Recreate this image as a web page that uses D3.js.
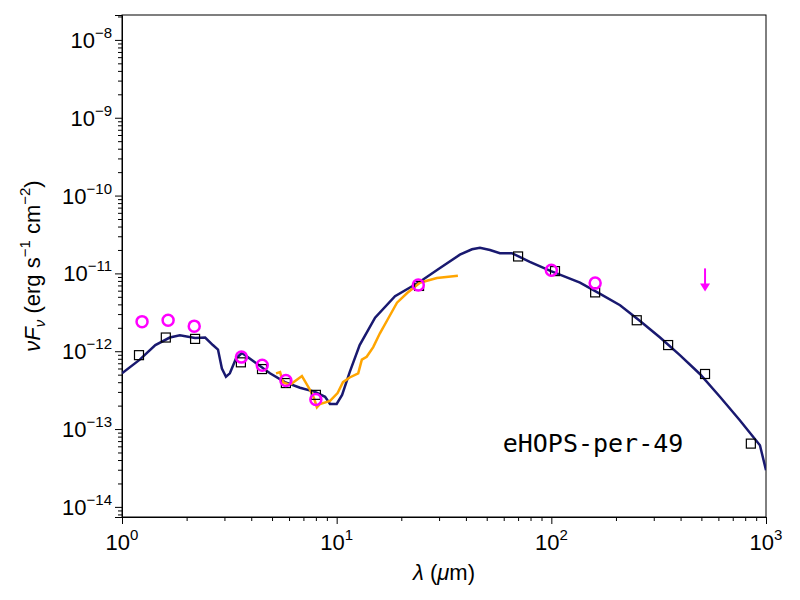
<!DOCTYPE html><html><head><meta charset="utf-8">
<script src="https://cdn.jsdelivr.net/npm/d3@7"></script>
<style>body{margin:0;background:#fff}text{font-family:"Liberation Sans",Arial,sans-serif}</style></head><body>
<svg id="c" width="800" height="600"></svg>
<script>
const modelWave=[1.0,1.21,1.43,1.67,1.86,2.19,2.44,2.65,2.80,2.92,3.05,3.18,3.40,3.62,4.16,4.89,5.74,6.75,7.93,8.83,9.31,10.0,10.6,11.5,12.8,15.1,18.7,24.4,30.3,37.5,42.7,46.5,51.8,57.6,65.5,79.4,99.6,136,168,209,259,321,397,492,610,755,937,1000];
const modelFlux=[5.2e-13,7.8e-13,1.2e-12,1.5e-12,1.6e-12,1.48e-12,1.5e-12,1.2e-12,1.05e-12,6.0e-13,4.7e-13,5.2e-13,8.1e-13,9.5e-13,7.2e-13,5.2e-13,4.0e-13,3.4e-13,3.0e-13,2.6e-13,2.1e-13,2.1e-13,2.75e-13,5.4e-13,1.2e-12,2.7e-12,5.1e-12,7.8e-12,1.17e-11,1.74e-11,2.04e-11,2.14e-11,2.0e-11,1.82e-11,1.82e-11,1.41e-11,1.07e-11,7.6e-12,5.5e-12,3.9e-12,2.45e-12,1.5e-12,8.9e-13,5.1e-13,2.6e-13,1.3e-13,6.2e-14,2.95e-14];
const specWave=[5.22,5.45,5.62,6.06,6.89,7.51,7.84,8.09,8.36,9.31,10.1,10.7,11.5,12.6,13.1,13.8,14.8,15.9,17.2,19.1,21.3,24.4,29.3,36.7];
const specFlux=[5.2e-13,5.4e-13,4.0e-13,3.7e-13,4.8e-13,3.2e-13,2.5e-13,1.9e-13,2.1e-13,2.3e-13,2.9e-13,4.0e-13,4.6e-13,5.2e-13,7.8e-13,8.5e-13,1.13e-12,1.7e-12,2.5e-12,4.2e-12,5.6e-12,7.6e-12,8.7e-12,9.3e-12];
const sqWave=[1.2,1.6,2.19,3.58,4.49,5.8,8.0,24.2,70,104,160,250,350,520,850];
const sqFlux=[8.9e-13,1.5e-12,1.44e-12,7.2e-13,5.9e-13,3.9e-13,2.75e-13,6.9e-12,1.65e-11,1.07e-11,5.7e-12,2.5e-12,1.2e-12,5.1e-13,6.5e-14];
const obsWave=[1.24,1.64,2.17,3.6,4.5,5.8,8.0,24,100,160];
const obsFlux=[2.4e-12,2.5e-12,2.1e-12,8.4e-13,6.6e-13,4.2e-13,2.4e-13,7.1e-12,1.1e-11,7.5e-12];
const limWave=[520], limFlux=[1.0e-11];
const label="eHOPS-per-49";

const svg=d3.select("#c");
const L=122,R=766,T=15,B=517;
const x=d3.scaleLog().domain([1,1000]).range([L,R]);
const y=d3.scaleLog().domain([Math.pow(10,-14.13),Math.pow(10,-7.68)]).range([B,T]);
const g=svg.append("g");
const sup=d=>Math.round(Math.log10(d));
g.append("g").attr("transform",`translate(0,${B})`).call(d3.axisBottom(x).tickValues([1,10,100,1000]).tickSize(7).tickFormat(""));
const xm=[];for(let d=1;d<1000;d*=10)for(let k=2;k<10;k++)xm.push(d*k);
g.append("g").attr("transform",`translate(0,${B})`).call(d3.axisBottom(x).tickValues(xm).tickSize(4).tickFormat("")).select(".domain").remove();
[1,10,100,1000].forEach(v=>{const t=g.append("text").attr("x",x(v)).attr("y",B+33).attr("text-anchor","middle").attr("font-size",22);
 t.append("tspan").text("10");t.append("tspan").attr("dy",-10).attr("font-size",15).text(sup(v));});
const ymaj=[1e-14,1e-13,1e-12,1e-11,1e-10,1e-9,1e-8];
g.append("g").attr("transform",`translate(${L},0)`).call(d3.axisLeft(y).tickValues(ymaj).tickSize(7).tickFormat(""));
const ym=[];for(let e=-15;e<-7;e++)for(let k=2;k<10;k++){const v=k*Math.pow(10,e);if(v>y.domain()[0]&&v<y.domain()[1])ym.push(v);}
g.append("g").attr("transform",`translate(${L},0)`).call(d3.axisLeft(y).tickValues(ym).tickSize(4).tickFormat("")).select(".domain").remove();
ymaj.forEach(v=>{const t=g.append("text").attr("x",L-10).attr("y",y(v)+8).attr("text-anchor","end").attr("font-size",22);
 t.append("tspan").text("10");t.append("tspan").attr("dy",-10).attr("font-size",15).text("\u2212"+(-sup(v)));});
g.selectAll(".tick line").attr("stroke","#000");g.selectAll(".domain").attr("stroke","#000");
svg.append("rect").attr("x",L).attr("y",T).attr("width",R-L).attr("height",B-T).attr("fill","none").attr("stroke","#000").attr("stroke-width",1);
const xl=svg.append("text").attr("x",(L+R)/2).attr("y",580).attr("text-anchor","middle").attr("font-size",22);
xl.append("tspan").attr("font-style","italic").text("λ");xl.append("tspan").text(" (");xl.append("tspan").attr("font-style","italic").text("μ");xl.append("tspan").text("m)");
const yl=svg.append("text").attr("transform",`translate(40,${(T+B)/2}) rotate(-90)`).attr("text-anchor","middle").attr("font-size",22);
yl.append("tspan").attr("font-style","italic").text("νF");yl.append("tspan").attr("font-style","italic").attr("font-size",15).attr("dy",5).text("ν");
yl.append("tspan").attr("dy",-5).text(" (erg s");yl.append("tspan").attr("dy",-10).attr("font-size",15).text("−1");
yl.append("tspan").attr("dy",10).text(" cm");yl.append("tspan").attr("dy",-10).attr("font-size",15).text("−2");yl.append("tspan").attr("dy",10).text(")");
svg.append("clipPath").attr("id","cp").append("rect").attr("x",L).attr("y",T).attr("width",R-L).attr("height",B-T);
const line=d3.line().x(d=>x(d[0])).y(d=>y(d[1]));
const p=svg.append("g").attr("clip-path","url(#cp)");
p.append("path").datum(modelWave.map((w,i)=>[w,modelFlux[i]])).attr("d",line).attr("fill","none").attr("stroke","#191970").attr("stroke-width",2.5);
p.append("path").datum(specWave.map((w,i)=>[w,specFlux[i]])).attr("d",line).attr("fill","none").attr("stroke","orange").attr("stroke-width",2.5);
p.selectAll(".sq").data(sqWave.map((w,i)=>[w,sqFlux[i]])).join("rect").attr("x",d=>x(d[0])-4.5).attr("y",d=>y(d[1])-4.5).attr("width",9).attr("height",9).attr("fill","none").attr("stroke","#000").attr("stroke-width",1.2);
p.selectAll(".ci").data(obsWave.map((w,i)=>[w,obsFlux[i]])).join("circle").attr("cx",d=>x(d[0])).attr("cy",d=>y(d[1])).attr("r",5.5).attr("fill","none").attr("stroke","magenta").attr("stroke-width",2.5);
limWave.forEach((w,i)=>{const cx=x(w),cy=y(limFlux[i]);
 p.append("line").attr("x1",cx).attr("x2",cx).attr("y1",cy-5).attr("y2",cy+12).attr("stroke","magenta").attr("stroke-width",2);
 p.append("path").attr("d",`M${cx-5},${cy+10}L${cx+5},${cy+10}L${cx},${cy+18}Z`).attr("fill","magenta");});
svg.append("text").attr("x",593).attr("y",452).attr("text-anchor","middle").style("font-family","'DejaVu Sans Mono',monospace").attr("font-size",25).text(label);
</script></body></html>
